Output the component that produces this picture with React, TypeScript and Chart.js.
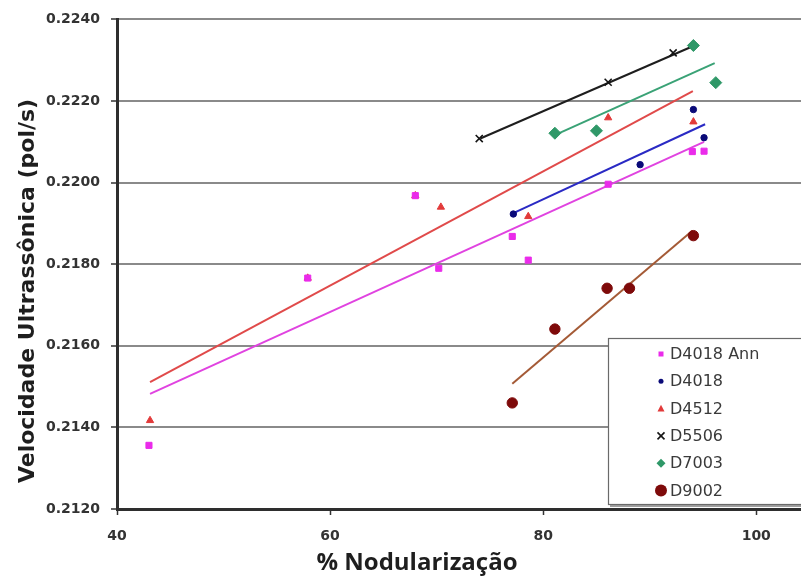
import React, { useEffect, useRef } from 'react';
import { Chart, registerables } from 'chart.js';

Chart.register(...registerables);

// ---- data ----
const seriesNames = ['D4018 Ann', 'D4018', 'D4512', 'D5506', 'D7003', 'D9002'];

const annX = [43.0, 57.9, 68.0, 70.2, 77.1, 78.6, 86.1, 94.0, 95.1];
const annY = [0.21356, 0.21766, 0.21968, 0.2179, 0.21868, 0.2181, 0.21996, 0.22076, 0.22077];

const d4018X = [77.2, 89.1, 94.1, 95.1];
const d4018Y = [0.21923, 0.22044, 0.22179, 0.2211];

const d4512X = [43.1, 57.9, 68.0, 70.4, 78.6, 86.1, 94.1];
const d4512Y = [0.21417, 0.21766, 0.21968, 0.2194, 0.21917, 0.22159, 0.22149];

const d5506X = [74.0, 86.1, 92.2];
const d5506Y = [0.22108, 0.22246, 0.22318];

const d7003X = [81.1, 85.0, 94.1, 96.2];
const d7003Y = [0.22121, 0.22127, 0.22336, 0.22245];

const d9002X = [77.1, 81.1, 86.0, 88.1, 94.1];
const d9002Y = [0.2146, 0.21641, 0.21741, 0.21741, 0.2187];

// trend line end points
const trendAnnX = [43.1, 95.1];
const trendAnnY = [0.21482, 0.221];
const trend4018X = [77.1, 95.2];
const trend4018Y = [0.21924, 0.22143];
const trend4512X = [43.1, 94.05];
const trend4512Y = [0.21511, 0.22224];
const trend5506X = [74.1, 94.2];
const trend5506Y = [0.22108, 0.22336];
const trend7003X = [81.4, 96.1];
const trend7003Y = [0.2212, 0.22293];
const trend9002X = [77.1, 94.0];
const trend9002Y = [0.21507, 0.21882];

const xTickValues = [40, 60, 80, 100];
const xTickLabels = ['40', '60', '80', '100'];
const yTickValues = [0.212, 0.214, 0.216, 0.218, 0.22, 0.222, 0.224];
const yTickLabels = ['0.2120', '0.2140', '0.2160', '0.2180', '0.2200', '0.2220', '0.2240'];

const xTitle = '% Nodularização';
const yTitle = 'Velocidade Ultrassônica (pol/s)';

const toPts = (xs: number[], ys: number[]) => xs.map((x, i) => ({ x, y: ys[i] }));

const markerColors = ['#ea2bea', '#0a0a78', '#e23a3a', '#151515', '#2f9868', '#7e0a0a'];
const lineColors = ['#e043e0', '#2a2ac4', '#e04a4a', '#1e1e1e', '#3aa276', '#a45a36'];

function drawMarker(ctx: CanvasRenderingContext2D, kind: string, x: number, y: number, s: number, color: string) {
  ctx.save();
  ctx.fillStyle = color;
  ctx.strokeStyle = color;
  ctx.beginPath();
  if (kind === 'rect') {
    ctx.rect(x - s / 2, y - s / 2, s, s);
    ctx.fill();
  } else if (kind === 'circle') {
    ctx.arc(x, y, s / 2, 0, Math.PI * 2);
    ctx.fill();
  } else if (kind === 'triangle') {
    ctx.moveTo(x, y - s * 0.55);
    ctx.lineTo(x + s / 2, y + s * 0.4);
    ctx.lineTo(x - s / 2, y + s * 0.4);
    ctx.closePath();
    ctx.fill();
  } else if (kind === 'cross') {
    ctx.lineWidth = 1.6;
    ctx.moveTo(x - s / 2, y - s / 2);
    ctx.lineTo(x + s / 2, y + s / 2);
    ctx.moveTo(x + s / 2, y - s / 2);
    ctx.lineTo(x - s / 2, y + s / 2);
    ctx.stroke();
  } else if (kind === 'diamond') {
    ctx.moveTo(x, y - s / 2);
    ctx.lineTo(x + s / 2, y);
    ctx.lineTo(x, y + s / 2);
    ctx.lineTo(x - s / 2, y);
    ctx.closePath();
    ctx.fill();
  }
  ctx.restore();
}

const legendKinds = ['rect', 'circle', 'triangle', 'cross', 'diamond', 'circle'];
const legendSizes = [5, 5, 7, 7, 9, 12];

const overlayPlugin = {
  id: 'overlay',
  afterDraw(chart: any) {
    const ctx: CanvasRenderingContext2D = chart.ctx;
    ctx.save();
    // legend box
    const lx = 608, ly = 338, lw = 220, lh = 167;
    ctx.fillStyle = '#a0a0a0';
    ctx.fillRect(lx + 2, ly + 2, lw, lh);
    ctx.fillStyle = '#ffffff';
    ctx.fillRect(lx, ly, lw, lh);
    ctx.strokeStyle = '#6a6a6a';
    ctx.lineWidth = 1.2;
    ctx.strokeRect(lx + 0.5, ly + 0.5, lw, lh - 1);
    ctx.font = '16px "DejaVu Sans"';
    ctx.textBaseline = 'middle';
    ctx.textAlign = 'left';
    seriesNames.forEach((name, i) => {
      const cy = 354 + i * 27.3;
      drawMarker(ctx, legendKinds[i], 661, cy, legendSizes[i], markerColors[i]);
      ctx.fillStyle = '#3a3a3a';
      ctx.fillText(name, 670, cy + 1);
    });
    // axis titles
    ctx.fillStyle = '#1e1e1e';
    ctx.font = 'bold 24px "Open Sans"';
    ctx.textAlign = 'center';
    ctx.textBaseline = 'alphabetic';
    ctx.fillText(xTitle, 417, 570);
    ctx.translate(34, 291);
    ctx.rotate(-Math.PI / 2);
    ctx.font = 'bold 22px "DejaVu Sans"';
    ctx.fillText(yTitle, 0, 0);
    ctx.restore();
  },
};

export default function App() {
  const ref = useRef<HTMLCanvasElement | null>(null);
  useEffect(() => {
    document.body.style.margin = '0';
    const canvas = ref.current;
    if (!canvas) return;
    const tickFont = { family: '"DejaVu Sans"', weight: 'bold' as const, size: 14 };
    const markerDs = [
      { data: toPts(annX, annY), pointStyle: 'rect', pointRadius: 4.3 },
      { data: toPts(d4018X, d4018Y), pointStyle: 'circle', pointRadius: 3.2 },
      { data: toPts(d4512X, d4512Y), pointStyle: 'triangle', pointRadius: 4.2 },
      { data: toPts(d5506X, d5506Y), pointStyle: 'crossRot', pointRadius: 5, pointBorderWidth: 1.6 },
      { data: toPts(d7003X, d7003Y), pointStyle: 'rectRot', pointRadius: 6 },
      { data: toPts(d9002X, d9002Y), pointStyle: 'circle', pointRadius: 5.2 },
    ].map((d, i) => ({
      label: seriesNames[i],
      showLine: false,
      backgroundColor: markerColors[i],
      borderColor: markerColors[i],
      pointBackgroundColor: markerColors[i],
      pointBorderColor: markerColors[i],
      pointBorderWidth: 1,
      ...d,
    }));
    const trends = [
      toPts(trendAnnX, trendAnnY),
      toPts(trend4018X, trend4018Y),
      toPts(trend4512X, trend4512Y),
      toPts(trend5506X, trend5506Y),
      toPts(trend7003X, trend7003Y),
      toPts(trend9002X, trend9002Y),
    ].map((data, i) => ({
      label: seriesNames[i] + ' trend',
      data,
      showLine: true,
      pointRadius: 0,
      borderColor: lineColors[i],
      borderWidth: 2,
      fill: false,
    }));

    const chart = new Chart(canvas, {
      type: 'scatter',
      data: { datasets: [...markerDs, ...trends] as any },
      plugins: [overlayPlugin],
      options: {
        responsive: false,
        animation: false,
        devicePixelRatio: 1,
        layout: { autoPadding: false, padding: { top: 17, left: 0, right: 0, bottom: 0 } },
        plugins: { legend: { display: false }, tooltip: { enabled: false } },
        scales: {
          x: {
            type: 'linear',
            min: 40,
            max: 104.2,
            afterFit: (s: any) => { s.height = 76; },
            afterBuildTicks: (s: any) => { s.ticks = xTickValues.map((v) => ({ value: v })); },
            grid: { drawOnChartArea: false, drawTicks: true, tickLength: 6, tickColor: '#333', tickWidth: 1.5 },
            border: { display: true, color: '#2e2e2e', width: 3 },
            ticks: {
              font: tickFont,
              color: '#333',
              padding: 13,
              maxRotation: 0,
              autoSkip: false,
              callback: (_v: any, i: number) => xTickLabels[i],
            },
          },
          y: {
            type: 'linear',
            min: 0.212,
            max: 0.224,
            afterFit: (s: any) => { s.width = 117; },
            afterBuildTicks: (s: any) => { s.ticks = yTickValues.map((v) => ({ value: v })); },
            grid: { color: '#8a8a8a', lineWidth: 2, tickColor: '#333', tickLength: 6, tickWidth: 1.5 },
            border: { display: true, color: '#2e2e2e', width: 3 },
            ticks: {
              font: tickFont,
              color: '#333',
              padding: 11,
              autoSkip: false,
              callback: (_v: any, i: number) => yTickLabels[i],
            },
          },
        },
      } as any,
    });
    return () => chart.destroy();
  }, []);
  return (
    <div style={{ position: 'absolute', left: 0, top: 0, width: 801, height: 585, background: '#fff' }}>
      <canvas ref={ref} width={801} height={585} style={{ width: 801, height: 585, display: 'block' }} />
    </div>
  );
}
